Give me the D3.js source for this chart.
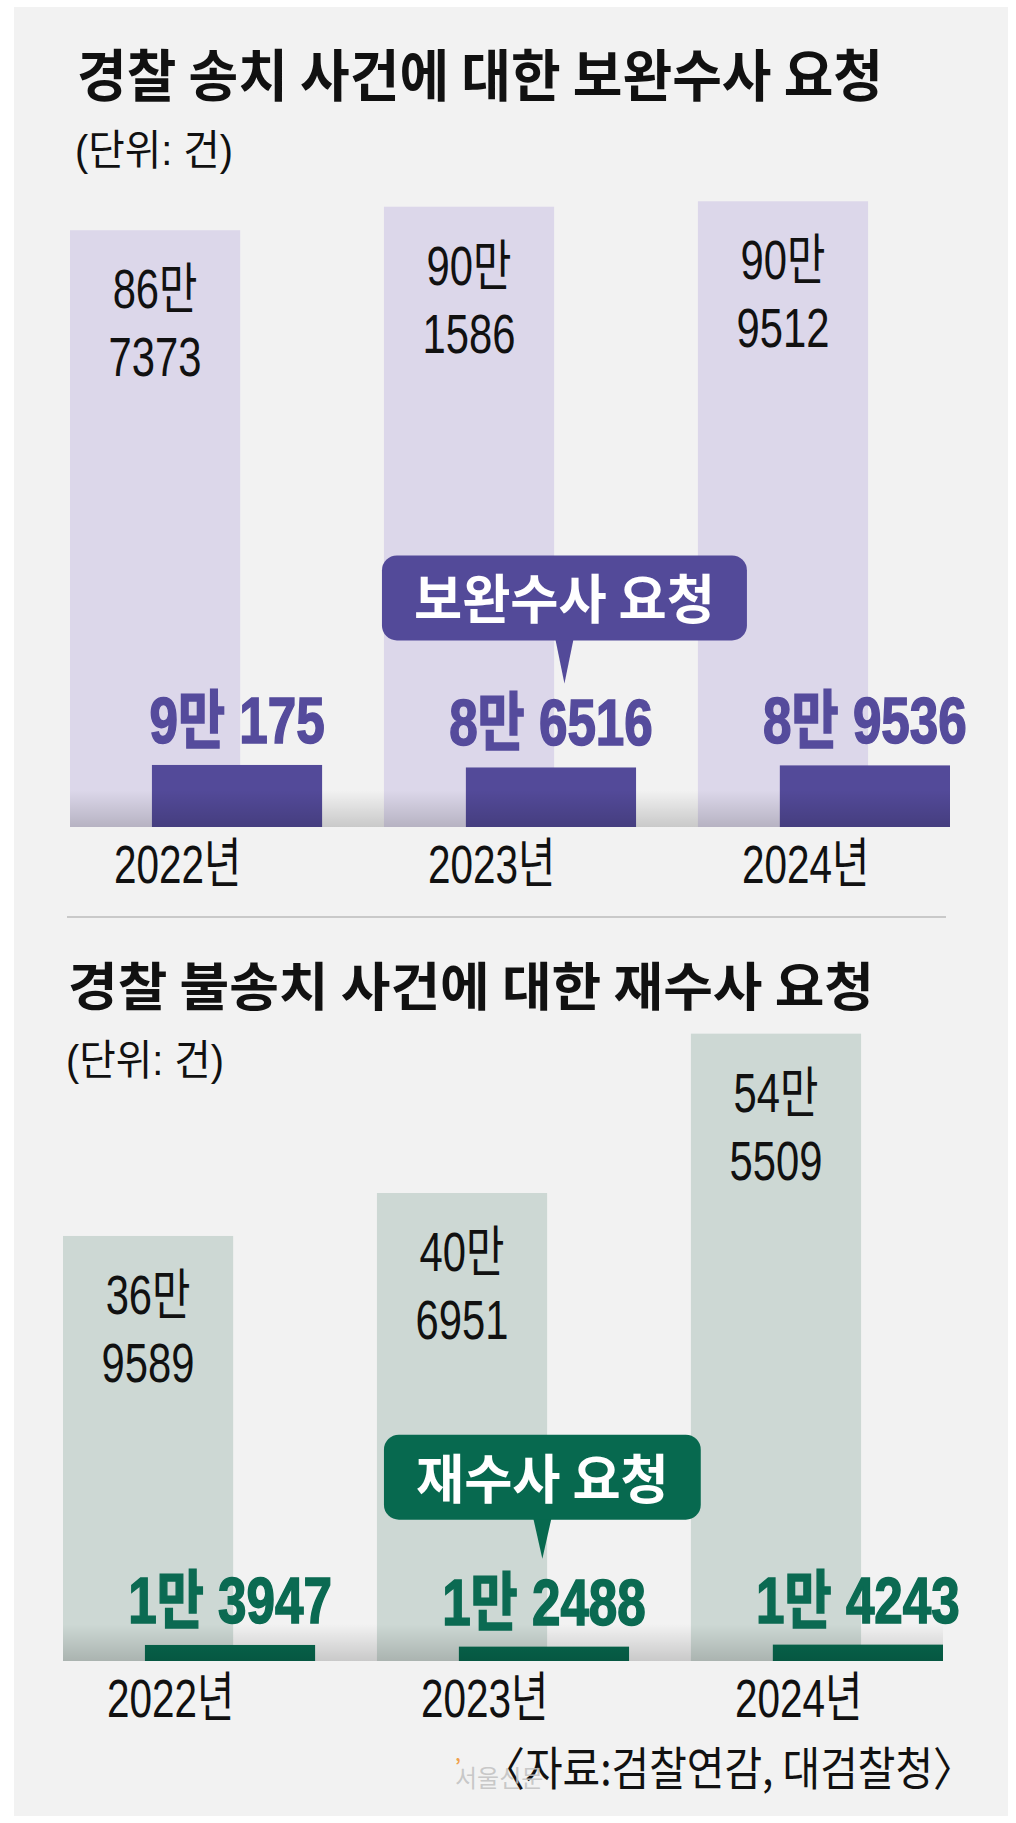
<!DOCTYPE html>
<html>
<head>
<meta charset="utf-8">
<script src="https://cdn.jsdelivr.net/npm/d3@7"></script>
<style>
  body { margin: 0; background: #fff; }
  svg { display: block; }
  .num { font-family: "Liberation Sans", "Noto Sans CJK KR", sans-serif; }
  .kr { font-family: "Noto Sans CJK KR", sans-serif; }
</style>
</head>
<body>
<svg></svg>
<script>
const years = ["2022년", "2023년", "2024년"]

// 경찰 송치 사건 / 보완수사 요청
const referredCases = [867373, 901586, 909512]
const supplementRequests = [90175, 86516, 89536]

// 경찰 불송치 사건 / 재수사 요청
const nonReferredCases = [369589, 406951, 545509]
const reinvestRequests = [13947, 12488, 14243]

const svg = d3.select("svg")
	.attr("width", 1016)
	.attr("height", 1823)

// grey panel behind everything
svg.append("rect")
	.attr("x", 14)
	.attr("y", 7)
	.attr("width", 994)
	.attr("height", 1809)
	.attr("fill", "#f2f2f2")

const defs = svg.append("defs")
const shade = defs.append("linearGradient")
	.attr("id", "floor")
	.attr("x1", 0).attr("y1", 0)
	.attr("x2", 0).attr("y2", 1)
shade.append("stop").attr("offset", "0%").attr("stop-color", "#000").attr("stop-opacity", 0)
shade.append("stop").attr("offset", "100%").attr("stop-color", "#000").attr("stop-opacity", 0.17)

// 86만 7373 style
const toMan = v => [Math.floor(v / 10000) + "만", String(v % 10000)]

// text squeezed horizontally to mimic the condensed newspaper face
function squeezed(g, x, y, str, sx) {
	return g.append("text")
		.attr("transform", `translate(${x},${y}) scale(${sx},1)`)
		.text(str)
}

function drawChart(cfg) {
	const g = svg.append("g")

	const x = d3.scaleBand()
		.domain(years)
		.range(cfg.xRange)
		.paddingInner(0.197)
		.paddingOuter(0)

	const y = d3.scaleLinear()
		.domain(cfg.yDomain)
		.range(cfg.yRange)

	const barW = x.bandwidth() * 0.675
	const darkX = d => x(d) + x.bandwidth() - barW

	// title + unit
	g.append("text")
		.attr("class", "kr")
		.attr("x", cfg.titleX)
		.attr("y", cfg.titleY)
		.attr("font-size", cfg.titleSize)
		.attr("font-weight", 700)
		.attr("textLength", 806)
		.attr("lengthAdjust", "spacingAndGlyphs")
		.attr("fill", "#111")
		.text(cfg.title)

	g.append("text")
		.attr("class", "num")
		.attr("x", cfg.titleX - 2)
		.attr("y", cfg.titleY + 69)
		.attr("font-size", 42)
		.attr("textLength", 158)
		.attr("lengthAdjust", "spacingAndGlyphs")
		.attr("fill", "#111")
		.text("(단위: 건)")

	// total bars (light)
	g.selectAll("rect.total")
		.data(cfg.totals)
		.enter()
		.append("rect")
		.attr("class", "total")
		.attr("x", (d, i) => x(years[i]))
		.attr("y", d => y(d))
		.attr("width", barW)
		.attr("height", d => y(0) - y(d))
		.attr("fill", cfg.light)

	// request bars (dark)
	g.selectAll("rect.request")
		.data(cfg.requests)
		.enter()
		.append("rect")
		.attr("class", "request")
		.attr("x", (d, i) => darkX(years[i]))
		.attr("y", d => y(d))
		.attr("width", barW)
		.attr("height", d => y(0) - y(d))
		.attr("fill", cfg.dark)

	// floor shadow
	g.append("rect")
		.attr("x", x(years[0]))
		.attr("y", y(0) - 37)
		.attr("width", x(years[2]) + x.bandwidth() - x(years[0]))
		.attr("height", 37)
		.attr("fill", "url(#floor)")

	// light bar labels, two lines
	cfg.totals.forEach((v, i) => {
		const cx = x(years[i]) + barW / 2
		const lines = toMan(v)
		lines.forEach((s, j) => {
			squeezed(g, cx, y(v) + 78 + j * 68, s, 0.76)
				.attr("class", "num")
				.attr("text-anchor", "middle")
				.attr("font-size", 55)
				.attr("fill", "#111")
		})
	})

	// dark bar labels
	cfg.requests.forEach((v, i) => {
		const cx = darkX(years[i]) + barW / 2
		squeezed(g, cx, y(v) - 22, toMan(v).join(" "), 0.8)
			.attr("class", "num")
			.attr("text-anchor", "middle")
			.attr("font-size", 64)
			.attr("font-weight", 700)
			.attr("fill", cfg.labelColor)
			.attr("stroke", cfg.labelColor)
			.attr("stroke-width", 1.6)
	})

	// year labels
	years.forEach(yr => {
		squeezed(g, x(yr) + 44, y(0) + 56, yr, 0.75)
			.attr("class", "num")
			.attr("font-size", 54)
			.attr("fill", "#111")
	})

	// callout bubble over the 2023 group
	const bubble = g.append("g")
	const boxTop = y(cfg.requests[1]) - 212
	const txt = squeezed(bubble, 0, 0, cfg.callout, 0.97)
		.attr("class", "kr")
		.attr("font-size", 54)
		.attr("font-weight", 700)
		.attr("fill", "#fff")
		.attr("text-anchor", "middle")
	const tw = txt.node().getComputedTextLength() * 0.97
	const boxX = x(years[1]) + cfg.bubbleShift
	const boxW = tw + 64
	const cx = boxX + boxW / 2
	bubble.insert("path", "text")
		.attr("d", `M${cx - 9},${boxTop + 84} L${cx},${boxTop + cfg.tip} L${cx + 9},${boxTop + 84} Z`)
		.attr("fill", cfg.dark)
	bubble.insert("rect", "text")
		.attr("x", boxX)
		.attr("y", boxTop)
		.attr("width", boxW)
		.attr("height", 85)
		.attr("rx", 15)
		.attr("fill", cfg.dark)
	txt.attr("transform", `translate(${cx},${boxTop + 64}) scale(0.97,1)`)
}

drawChart({
	title: "경찰 송치 사건에 대한 보완수사 요청",
	titleX: 77,
	titleY: 96,
	titleSize: 56,
	xRange: [70, 950],
	yDomain: [0, 1000000],
	yRange: [827, 139],
	totals: referredCases,
	requests: supplementRequests,
	light: "#dcd7ea",
	dark: "#534a99",
	labelColor: "#554b9c",
	callout: "보완수사 요청",
	bubbleShift: -2,
	tip: 128
})

// divider
svg.append("line")
	.attr("x1", 67).attr("x2", 946)
	.attr("y1", 917).attr("y2", 917)
	.attr("stroke", "#c9c9c9")
	.attr("stroke-width", 2)

drawChart({
	title: "경찰 불송치 사건에 대한 재수사 요청",
	titleX: 68,
	titleY: 1006,
	titleSize: 52,
	xRange: [63, 943],
	yDomain: [0, 600000],
	yRange: [1661, 971],
	totals: nonReferredCases,
	requests: reinvestRequests,
	light: "#cdd8d4",
	dark: "#07694f",
	labelColor: "#0b6a52",
	callout: "재수사 요청",
	bubbleShift: 7,
	tip: 124
})

// source line + watermark on top of it
svg.append("text")
	.attr("class", "kr")
	.attr("x", 484)
	.attr("y", 1785)
	.attr("font-size", 46)
	.attr("textLength", 490)
	.attr("lengthAdjust", "spacingAndGlyphs")
	.attr("fill", "#111")
	.text("〈자료:검찰연감, 대검찰청〉")

svg.append("text")
	.attr("class", "kr")
	.attr("x", 455)
	.attr("y", 1787)
	.attr("font-size", 24)
	.attr("fill", "#c2c2c2")
	.attr("fill-opacity", 0.9)
	.text("서울신문")

svg.append("text")
	.attr("class", "kr")
	.attr("x", 455)
	.attr("y", 1772)
	.attr("font-size", 18)
	.attr("font-weight", 700)
	.attr("fill", "#f0a04b")
	.text("’")
</script>
</body>
</html>
